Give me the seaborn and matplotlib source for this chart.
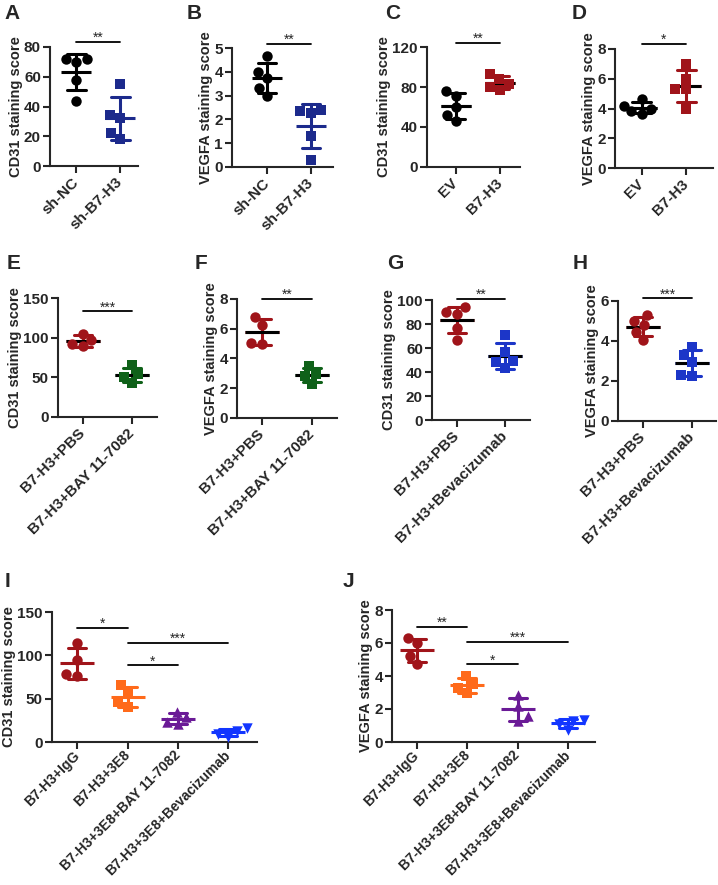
import numpy as np
import pandas as pd
import seaborn as sns
import matplotlib.pyplot as plt

sns.set_style("ticks")
plt.rcParams['font.family'] = ['Liberation Sans', 'DejaVu Sans']
plt.rcParams['font.weight'] = 'bold'
plt.rcParams['axes.linewidth'] = 1.5

# ---- data ----
# A / B : knockdown
ab_groups = ["sh-NC", "sh-B7-H3"]
a_cd31_nc = [72, 72, 70, 58, 44]
a_cd31_kd = [55, 34, 32, 22, 18]
b_vegfa_nc = [4.65, 4.0, 3.75, 3.3, 3.0]
b_vegfa_kd = [2.4, 2.35, 2.25, 1.3, 0.3]

# C / D : overexpression
cd_groups = ["EV", "B7-H3"]
c_cd31_ev = [76, 71, 60, 52, 46]
c_cd31_oe = [93, 88, 83, 80, 77]
d_vegfa_ev = [4.65, 4.2, 4.0, 3.8, 3.65]
d_vegfa_oe = [7.0, 6.0, 5.3, 5.3, 4.0]

# E / F : BAY 11-7082
ef_groups = ["B7-H3+PBS", "B7-H3+BAY 11-7082"]
e_cd31_pbs = [105, 97, 92, 89]
e_cd31_bay = [65, 54, 51, 43]
f_vegfa_pbs = [6.8, 6.25, 5.05, 5.0]
f_vegfa_bay = [3.5, 2.95, 2.85, 2.3]

# G / H : Bevacizumab
gh_groups = ["B7-H3+PBS", "B7-H3+Bevacizumab"]
g_cd31_pbs = [94, 90, 88, 77, 67]
g_cd31_bev = [71, 57, 49, 48, 43]
h_vegfa_pbs = [5.3, 5.0, 4.8, 4.45, 4.05]
h_vegfa_bev = [3.7, 3.3, 2.95, 2.3, 2.25]

# I / J : 3E8 combinations
ij_groups = ["B7-H3+IgG", "B7-H3+3E8", "B7-H3+3E8+BAY 11-7082", "B7-H3+3E8+Bevacizumab"]
i_cd31_igg = [114, 95, 78, 76]
i_cd31_3e8 = [66, 56, 46, 40]
i_cd31_bay = [35, 29, 23, 21]
i_cd31_bev = [16, 13, 9.5, 5.5]
j_vegfa_igg = [6.28, 5.97, 5.22, 4.72]
j_vegfa_3e8 = [4.0, 3.5, 3.3, 2.95]
j_vegfa_bay = [2.85, 2.2, 1.55, 1.3]
j_vegfa_bev = [1.35, 1.3, 1.1, 0.75]

# significance brackets: (from, to, height, stars)
a_sig = [(0, 1, 83.5, "**")]
b_sig = [(0, 1, 5.17, "**")]
c_sig = [(0, 1, 124.5, "**")]
d_sig = [(0, 1, 8.35, "*")]
e_sig = [(0, 1, 133, "***")]
f_sig = [(0, 1, 8.0, "**")]
g_sig = [(0, 1, 101, "**")]
h_sig = [(0, 1, 6.13, "***")]
i_sig = [(0, 1, 131.5, "*"), (1, 3, 114.5, "***"), (1, 2, 88.5, "*")]
j_sig = [(0, 1, 7.0, "**"), (1, 3, 6.07, "***"), (1, 2, 4.7, "*")]

# colours
black = "#000000"
navy = "#1c2a8c"
darkred = "#a0141a"
green = "#0f6119"
blue = "#1c36c8"
orange = "#ff6a1a"
purple = "#6a1a96"
brightblue = "#1236ff"

panels = [
    dict(letter="A", groups=ab_groups, vals=[a_cd31_nc, a_cd31_kd], colors=[black, navy],
         markers=["o", "s"], ylabel="CD31 staining score", yticks=[0, 20, 40, 60, 80],
         sig=a_sig, mean_black=False, px=(50, 47, 138, 166), xlim=(-0.6, 1.4), lpos=(4, 4)),
    dict(letter="B", groups=ab_groups, vals=[b_vegfa_nc, b_vegfa_kd], colors=[black, navy],
         markers=["o", "s"], ylabel="VEGFA staining score", yticks=[0, 1, 2, 3, 4, 5],
         sig=b_sig, mean_black=False, px=(232, 48, 333, 167), xlim=(-0.8, 1.5), lpos=(187, 4)),
    dict(letter="C", groups=cd_groups, vals=[c_cd31_ev, c_cd31_oe], colors=[black, darkred],
         markers=["o", "s"], ylabel="CD31 staining score", yticks=[0, 40, 80, 120],
         sig=c_sig, mean_black=True, px=(427, 47, 520, 167), xlim=(-0.65, 1.45), lpos=(385, 4)),
    dict(letter="D", groups=cd_groups, vals=[d_vegfa_ev, d_vegfa_oe], colors=[black, darkred],
         markers=["o", "s"], ylabel="VEGFA staining score", yticks=[0, 2, 4, 6, 8],
         sig=d_sig, mean_black=True, px=(615, 49, 713, 168), xlim=(-0.6, 1.6), lpos=(572, 4)),
    dict(letter="E", groups=ef_groups, vals=[e_cd31_pbs, e_cd31_bay], colors=[darkred, green],
         markers=["o", "s"], ylabel="CD31 staining score", yticks=[0, 50, 100, 150],
         sig=e_sig, mean_black=True, px=(58, 298, 157, 417), xlim=(-0.5, 1.5), lpos=(7, 254)),
    dict(letter="F", groups=ef_groups, vals=[f_vegfa_pbs, f_vegfa_bay], colors=[darkred, green],
         markers=["o", "s"], ylabel="VEGFA staining score", yticks=[0, 2, 4, 6, 8],
         sig=f_sig, mean_black=True, px=(237, 299, 337, 418), xlim=(-0.5, 1.5), lpos=(195, 254)),
    dict(letter="G", groups=gh_groups, vals=[g_cd31_pbs, g_cd31_bev], colors=[darkred, blue],
         markers=["o", "s"], ylabel="CD31 staining score", yticks=[0, 20, 40, 60, 80, 100],
         sig=g_sig, mean_black=True, px=(432, 300, 530, 420), xlim=(-0.52, 1.52), lpos=(387, 254)),
    dict(letter="H", groups=gh_groups, vals=[h_vegfa_pbs, h_vegfa_bev], colors=[darkred, blue],
         markers=["o", "s"], ylabel="VEGFA staining score", yticks=[0, 2, 4, 6],
         sig=h_sig, mean_black=True, px=(618, 301, 716, 421), xlim=(-0.51, 1.49), lpos=(573, 254)),
    dict(letter="I", groups=ij_groups, vals=[i_cd31_igg, i_cd31_3e8, i_cd31_bay, i_cd31_bev],
         colors=[darkred, orange, purple, brightblue], markers=["o", "s", "^", "v"],
         ylabel="CD31 staining score", yticks=[0, 50, 100, 150],
         sig=i_sig, mean_black=False, px=(52, 612, 257, 742), xlim=(-0.5, 3.57), lpos=(5, 572)),
    dict(letter="J", groups=ij_groups, vals=[j_vegfa_igg, j_vegfa_3e8, j_vegfa_bay, j_vegfa_bev],
         colors=[darkred, orange, purple, brightblue], markers=["o", "s", "^", "v"],
         ylabel="VEGFA staining score", yticks=[0, 2, 4, 6, 8],
         sig=j_sig, mean_black=False, px=(392, 610, 595, 742), xlim=(-0.5, 3.54), lpos=(343, 572)),
]

W, H = 718, 885
fig = plt.figure(figsize=(W / 100, H / 100), dpi=100)

for p in panels:
    l, t, r, b = p["px"]
    ax = fig.add_axes([l / W, 1 - b / H, (r - l) / W, (b - t) / H])
    groups = p["groups"]
    df = pd.concat([pd.DataFrame({"group": g, "score": v}) for g, v in zip(groups, p["vals"])],
                   ignore_index=True)
    wide = p["letter"] in "ABCD"
    cap = 0.42 if wide else 0.36
    msize = 22 if wide else 24
    four = len(groups) == 4

    for g, v, c, m in zip(groups, p["vals"], p["colors"], p["markers"]):
        sns.swarmplot(x=[g] * len(v), y=v, order=groups, color=c, marker=m, size=7.5,
                      linewidth=0, ax=ax)

    sns.pointplot(data=df, x="group", y="score", hue="group", order=groups, hue_order=groups,
                  palette=p["colors"], errorbar="sd", capsize=cap, marker="_", markersize=msize,
                  markeredgewidth=2.2, linestyle="none", err_kws={"linewidth": 2.2},
                  legend=False, ax=ax)
    if p["mean_black"]:
        sns.pointplot(data=df, x="group", y="score", order=groups, color="black",
                      errorbar=None, marker="_", markersize=msize, markeredgewidth=2.2,
                      linestyle="none", ax=ax)

    for i, j, y, stars in p["sig"]:
        ax.plot([i, j], [y, y], color="black", lw=1.3, clip_on=False)
        ax.text((i + j) / 2, y, stars, ha="center", va="baseline", fontsize=10,
                fontweight="normal", clip_on=False)

    ax.set_xlim(*p["xlim"])
    ax.set_ylim(0, p["yticks"][-1])
    ax.set_yticks(p["yticks"])
    ax.set_xlabel("")
    ax.set_ylabel(p["ylabel"], fontsize=10.5, fontweight="bold", labelpad=1)
    ax.tick_params(axis="both", length=5, width=1.5, labelsize=11)
    ax.tick_params(axis="y", pad=1.5)
    ax.tick_params(axis="x", pad=3 if four else 5)
    plt.setp(ax.get_xticklabels(), rotation=45, ha="right", va="center",
             rotation_mode="anchor", fontsize=10 if four else 11)
    sns.despine(ax=ax)

    fig.text(p["lpos"][0] / W, 1 - p["lpos"][1] / H, p["letter"], fontsize=15,
             fontweight="bold", va="top", ha="left")

fig.savefig("out.png", dpi=100)
